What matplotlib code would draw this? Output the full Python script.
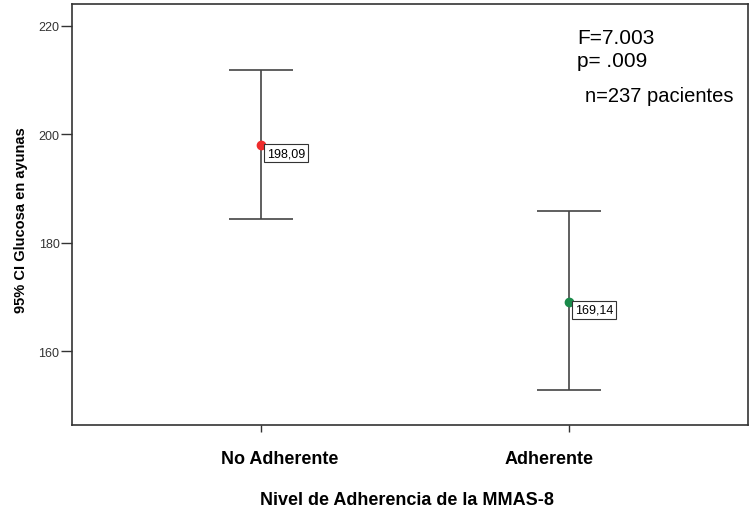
import matplotlib
matplotlib.use("Agg")
import matplotlib.pyplot as plt
import matplotlib.transforms as mtransforms

plt.rcParams['font.family'] = ['Liberation Sans', 'DejaVu Sans']

# datos
grupos = ["No Adherente", "Adherente"]
medias = [198.09, 169.14]
ic_inf = [184.4, 152.8]
ic_sup = [211.9, 185.8]
colores = ["#ee2c2c", "#1a8a4a"]
etiquetas = ["198,09", "169,14"]

fig = plt.figure(figsize=(7.5, 5.1), dpi=100)
ax = fig.add_axes([72 / 750, 1 - 426 / 510, 676 / 750, 421 / 510])

x = list(range(len(grupos)))
for i in x:
    err = [[medias[i] - ic_inf[i]], [ic_sup[i] - medias[i]]]
    ax.errorbar(i, medias[i], yerr=err, fmt='none', ecolor='#444444',
                elinewidth=1.2, capsize=23, capthick=1.2, zorder=2)
    ax.plot(i, medias[i], 'o', color=colores[i], markersize=6, zorder=3)
    ax.annotate(etiquetas[i], (i, medias[i]), xytext=(4, -6),
                textcoords='offset points', fontsize=9, va='center', ha='left',
                bbox=dict(boxstyle='square,pad=0.22', fc='white', ec='#333333', lw=0.8))

ax.set_xlim(-0.614, 1.581)
ax.set_ylim(146.35, 224.06)
ax.set_xticks(x)
ax.set_xticklabels(grupos, fontsize=13, fontweight='bold')
ax.set_yticks([160, 180, 200, 220])
ax.tick_params(axis='y', labelsize=9, length=8, width=1, color='#333333', labelcolor='#333333', pad=1)
ax.tick_params(axis='x', length=5, width=1, color='#333333', pad=13)

# SPSS desplaza las etiquetas del eje x hacia el centro
desplaz = [0.19, -0.20]
for lab, dx in zip(ax.get_xticklabels(), desplaz):
    lab.set_transform(lab.get_transform() + mtransforms.ScaledTranslation(dx, 0, fig.dpi_scale_trans))

for s in ax.spines.values():
    s.set_color('#333333')
    s.set_linewidth(1.2)

ax.set_ylabel("95% CI Glucosa en ayunas", fontsize=10.5, fontweight='bold')
ax.yaxis.set_label_coords(-(72 - 21) / 676, (426 - 220) / 421)
ax.yaxis.label.set_va('center')
ax.set_xlabel("Nivel de Adherencia de la MMAS-8", fontsize=13, fontweight='bold')
ax.xaxis.set_label_coords((407 - 72) / 676, -(501 - 426) / 421)
ax.xaxis.label.set_va('center')

ax.text(577 / 750, 1 - 44 / 510, "F=7.003", transform=fig.transFigure, fontsize=15, va='baseline')
ax.text(577 / 750, 1 - 67 / 510, "p= .009", transform=fig.transFigure, fontsize=15, va='baseline')
ax.text(585 / 750, 1 - 102 / 510, "n=237 pacientes", transform=fig.transFigure, fontsize=14.5, va='baseline')

fig.savefig("out.png", dpi=100)
